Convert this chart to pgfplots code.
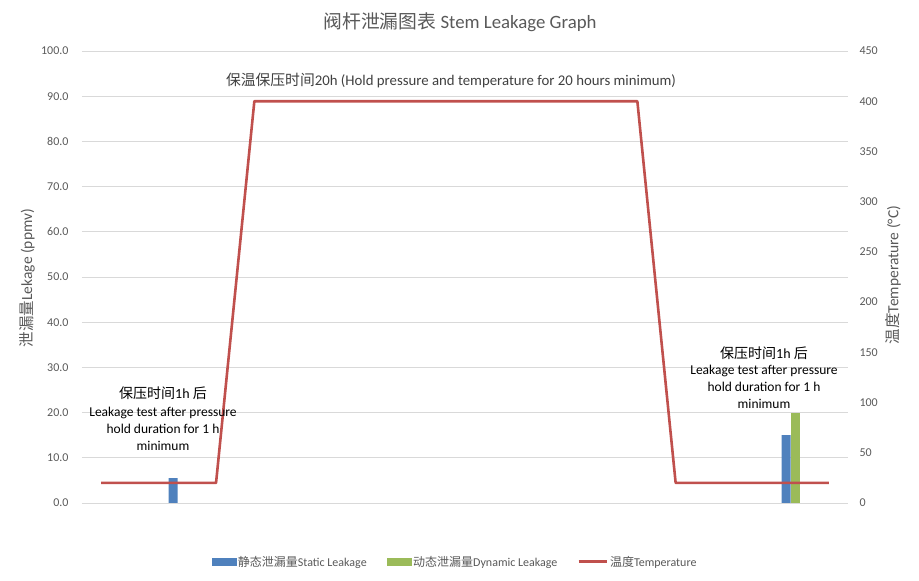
\documentclass[border=0pt]{standalone}
\usepackage{fontspec}
\setmainfont{Carlito}
\newfontfamily\cjk{Noto Sans CJK SC}
\usepackage{pgfplots}
\pgfplotsset{compat=1.18}

\definecolor{barblue}{HTML}{4F81BD}
\definecolor{bargreen}{HTML}{9BBB59}
\definecolor{linered}{HTML}{C0504D}
\definecolor{gridgray}{HTML}{D9D9D9}
\definecolor{labgray}{HTML}{595959}
\definecolor{txtgray}{HTML}{404040}

\pgfplotsset{
  base/.style={
    scale only axis, width=766pt, height=452pt,
    at={(0pt,0pt)}, anchor=south west,
    xmin=-0.5, xmax=19.5, xtick=\empty,
    axis line style={draw=none}, major tick length=0pt,
    tick label style={font=\fontsize{12}{14}\selectfont, text=labgray},
    /pgf/number format/assume math mode=true,
  }
}

\begin{document}
\begin{tikzpicture}
\useasboundingbox (-82pt,-78pt) rectangle (837pt,503pt);

% left axis: leakage bars
\begin{axis}[base,
  ymin=0, ymax=100, ytick={0,10,...,100},
  ymajorgrids, grid style={gridgray, line width=0.8pt},
  yticklabel style={xshift=-10pt,
    /pgf/number format/fixed, /pgf/number format/fixed zerofill,
    /pgf/number format/precision=1},
]
\addplot[ybar, bar width=9pt, bar shift=-4.5pt, fill=barblue, draw=none]
  coordinates {(2,5.5) (18,15)};
\addplot[ybar, bar width=9pt, bar shift=4.5pt, fill=bargreen, draw=none]
  coordinates {(18,20)};
\end{axis}

% right axis: temperature
\begin{axis}[base,
  ymin=0, ymax=450, ytick={0,50,...,450},
  yticklabel pos=right,
  yticklabel style={xshift=8pt, anchor=west},
  legend columns=3,
  legend style={at={(0.487,-0.13)}, anchor=center, draw=none,
    font=\fontsize{12}{14}\selectfont, text=labgray,
    /tikz/every even column/.append style={column sep=18pt}},
]
\addlegendimage{legend image code/.code={\fill[barblue] (0pt,-3.5pt) rectangle (24pt,3.5pt);}}
\addlegendentry{{\cjk 静态泄漏量}Static Leakage}
\addlegendimage{legend image code/.code={\fill[bargreen] (0pt,-3.5pt) rectangle (24pt,3.5pt);}}
\addlegendentry{{\cjk 动态泄漏量}Dynamic Leakage}
\addplot[linered, line width=2.6pt, line join=round, no marks,
  legend image code/.code={\draw[linered, line width=2.6pt] (0pt,0pt) -- (28pt,0pt);}]
  coordinates {(0,20) (3,20) (4,400) (14,400) (15,20) (19,20)};
\addlegendentry{{\cjk 温度}Temperature}
\end{axis}

% title and axis labels
\node[text=labgray, font=\fontsize{18.8}{21}\selectfont] at (378pt,481pt)
  {{\cjk 阀杆泄漏图表} Stem Leakage Graph};
\node[text=labgray, font=\fontsize{15.5}{17}\selectfont, rotate=90] at (-55pt,225pt)
  {{\cjk 泄漏量}Lekage (ppmv)};
\node[text=labgray, font=\fontsize{15.5}{17}\selectfont, rotate=90] at (811pt,228pt)
  {{\cjk 温度}Temperature (°C)};

% annotations
\node[text=txtgray, font=\fontsize{14.8}{16}\selectfont] at (369pt,422pt)
  {{\cjk 保温保压时间}20h (Hold pressure and temperature for 20 hours minimum)};

\begin{scope}[every node/.style={text=black, font=\fontsize{13.5}{15}\selectfont}]
\node[font=\fontsize{14}{15}\selectfont] at (81pt,110pt) {{\cjk 保压时间}1h {\cjk 后}};
\node at (81pt,90pt) {Leakage test after pressure};
\node at (81pt,74pt) {hold duration for 1 h};
\node at (81pt,57pt) {minimum};
\node[font=\fontsize{14}{15}\selectfont] at (682pt,150pt) {{\cjk 保压时间}1h {\cjk 后}};
\node at (682pt,132pt) {Leakage test after pressure};
\node at (682pt,116pt) {hold duration for 1 h};
\node at (682pt,99pt) {minimum};
\end{scope}
\end{tikzpicture}
\end{document}
